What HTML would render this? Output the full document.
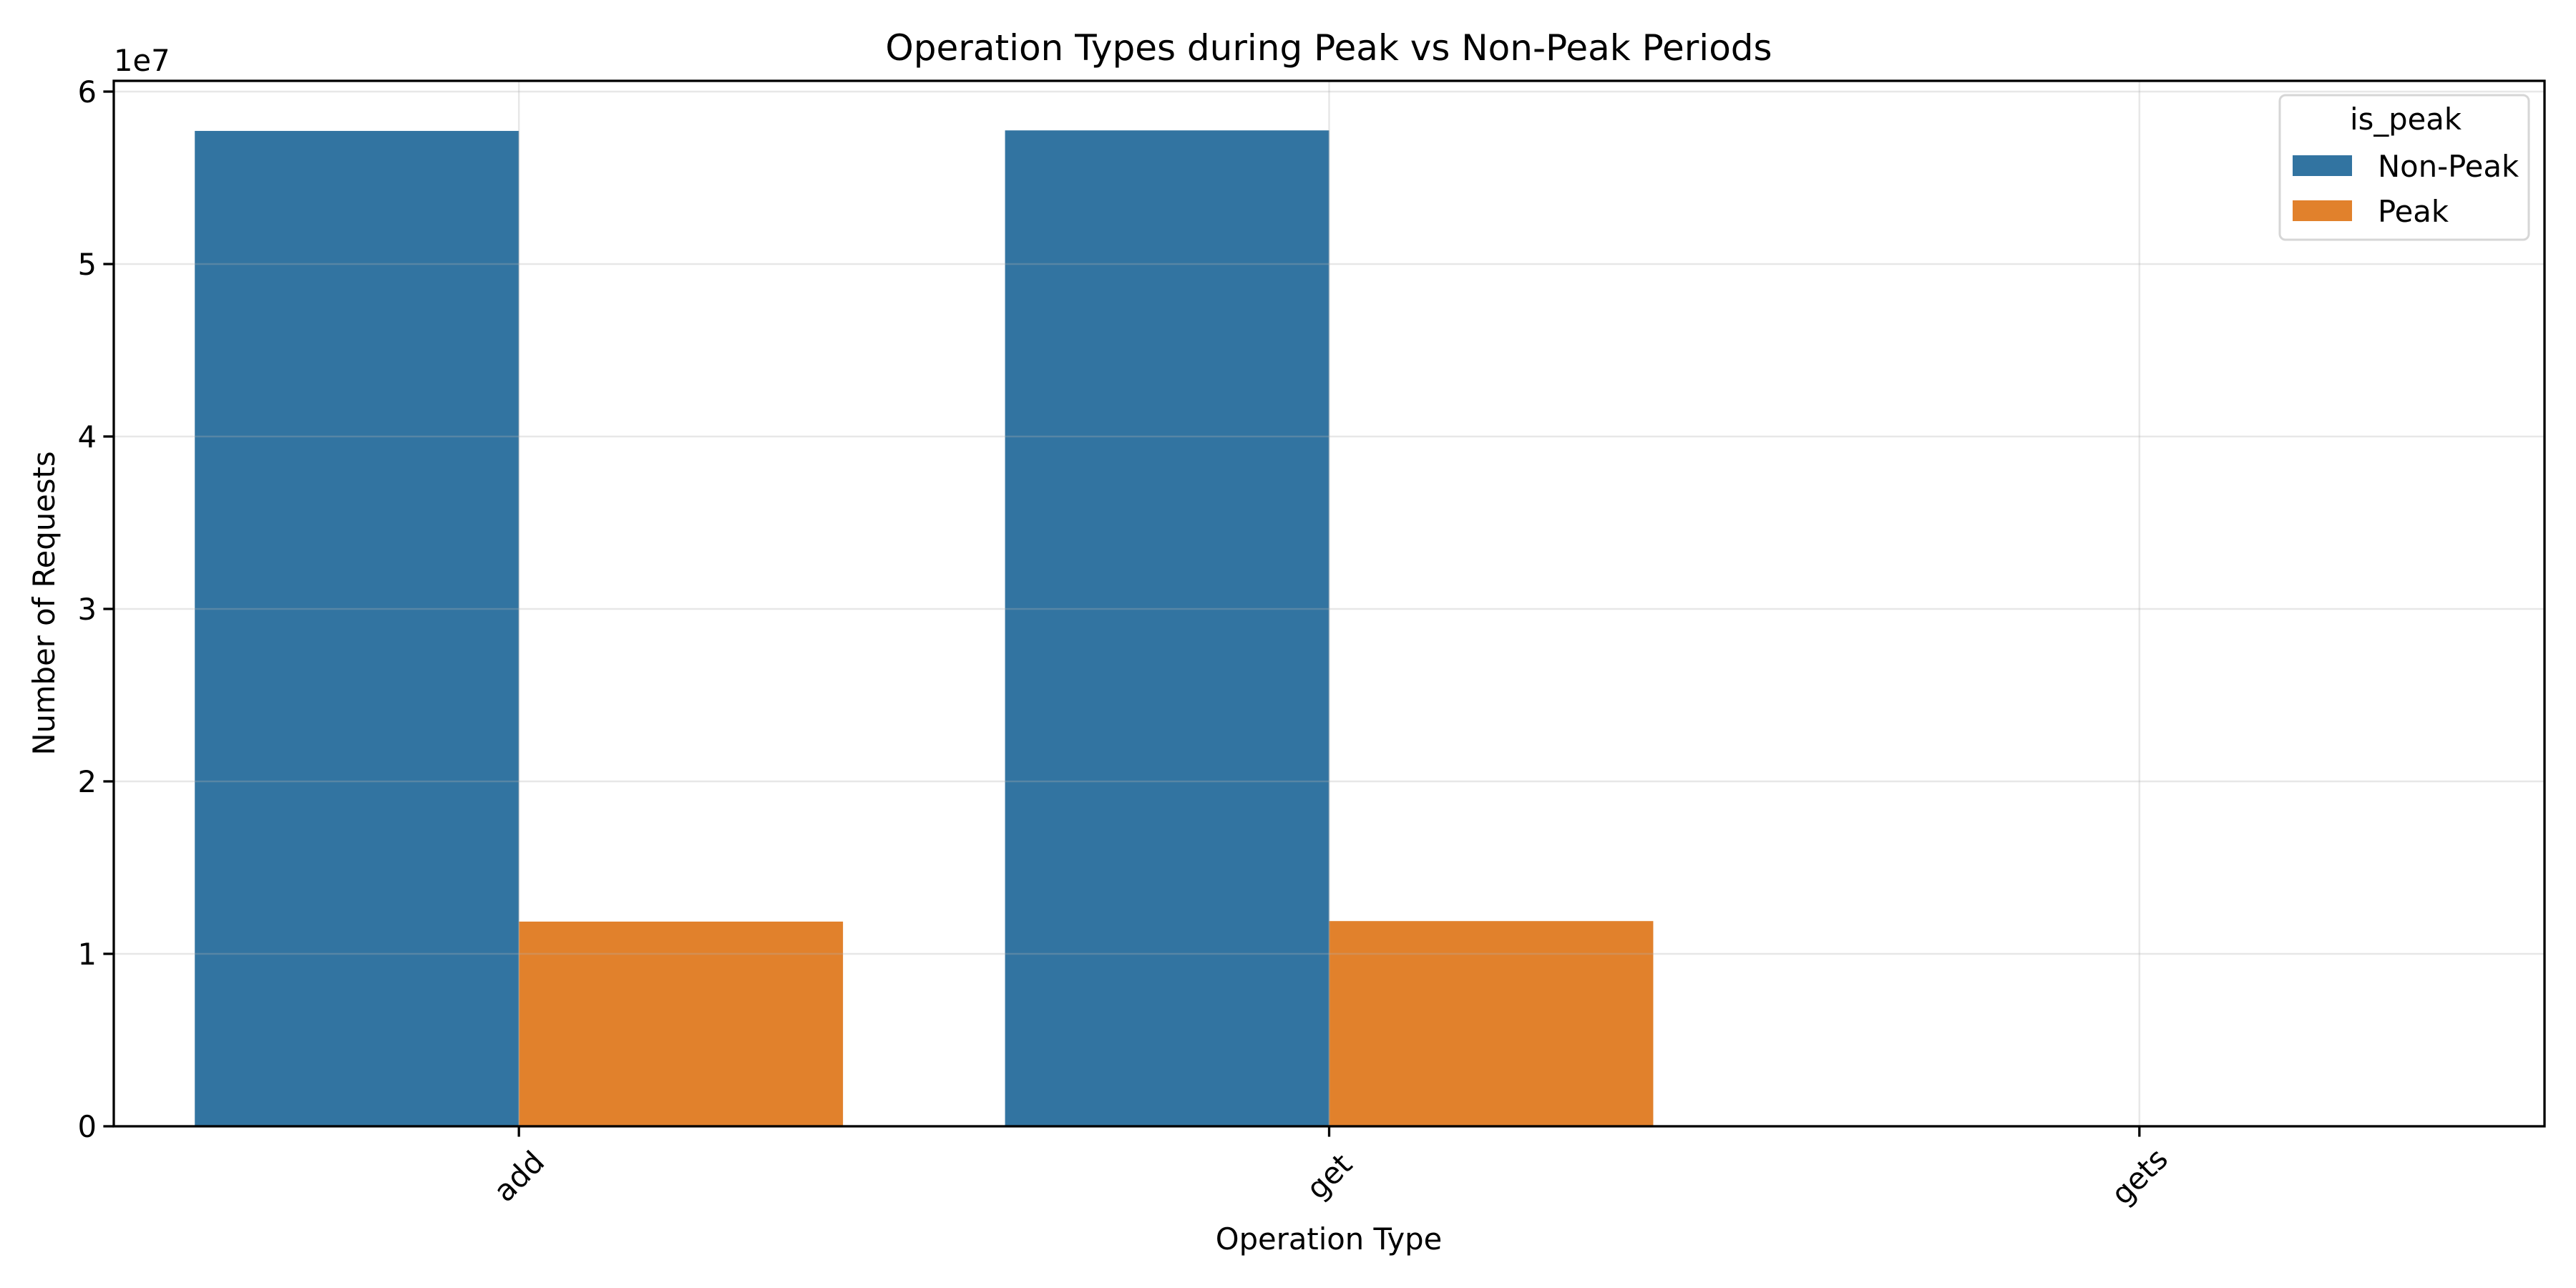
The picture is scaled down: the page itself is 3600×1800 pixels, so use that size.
<!DOCTYPE html>
<html><head><meta charset="utf-8"><style>
html,body{margin:0;padding:0;background:#fff;}
svg{display:block;font-family:"DejaVu Sans","Liberation Sans",sans-serif;}
</style></head><body>
<svg id="chart" width="3600" height="1800" viewBox="0 0 3600 1800" xmlns="http://www.w3.org/2000/svg">
<rect x="0" y="0" width="3600" height="1800" fill="#fff"/>
<g id="grid"></g>
<g id="bars"></g>
<g id="gridTop"></g>
<g id="axes"></g>
<text x="1857" y="84" text-anchor="middle" font-size="50" fill="#000">Operation Types during Peak vs Non-Peak Periods</text>
<text x="1857" y="1746" text-anchor="middle" font-size="41.7" fill="#000">Operation Type</text>
<text transform="translate(76,843) rotate(-90)" text-anchor="middle" font-size="41.7" fill="#000">Number of Requests</text>
<text x="159" y="99" font-size="41.7" fill="#000">1e7</text>
<g>
<rect x="3186" y="133" width="348" height="202" rx="8" fill="#fff" fill-opacity="0.8" stroke="#d6d6d6" stroke-width="3"/>
<text x="3362" y="181" text-anchor="middle" font-size="41.7" fill="#000">is_peak</text>
<rect x="3204" y="217" width="83" height="29" fill="#3274a1"/>
<text x="3323" y="247" font-size="41.7" fill="#000">Non-Peak</text>
<rect x="3204" y="280" width="83" height="29" fill="#e1812c"/>
<text x="3323" y="310" font-size="41.7" fill="#000">Peak</text>
</g>
</svg>
<script>
const categories = ["add", "get", "gets"];
const seriesNames = ["Non-Peak", "Peak"];
const nonPeakValues = [5.772e7, 5.775e7, 0];
const peakValues = [1.187e7, 1.19e7, 0];
const yTicks = [0, 1e7, 2e7, 3e7, 4e7, 5e7, 6e7];
const yTickLabels = ["0", "1", "2", "3", "4", "5", "6"];

const NS = "http://www.w3.org/2000/svg";
const L = 159, R = 3556, T = 113, B = 1574;
const yMax = (B - T) / 241 * 1e7;
function xScale(i){ return L + (i + 0.5) / categories.length * (R - L); }
function yScale(v){ return B - v / yMax * (B - T); }
const band = (R - L) / categories.length;
const barW = band * 0.4;
function mk(tag, attrs, parent){
  const e = document.createElementNS(NS, tag);
  for (const k in attrs) e.setAttribute(k, attrs[k]);
  parent.appendChild(e);
  return e;
}
const grid = document.getElementById('gridTop');
const bars = document.getElementById('bars');
const axes = document.getElementById('axes');
const series = [nonPeakValues, peakValues];
const colors = ["#3274a1", "#e1812c"];
series.forEach((vals, s) => {
  vals.forEach((v, i) => {
    const x = xScale(i) - barW + s * barW;
    const r = mk('rect', {x: x, y: yScale(v), width: barW, height: B - yScale(v), fill: colors[s]}, bars);
    
    
  });
});
yTicks.forEach((t, i) => {
  const y = yScale(t);
  const g = mk('line', {x1: L, x2: R, y1: y, y2: y, stroke: '#b0b0b0', 'stroke-opacity': 0.3, 'stroke-width': 2.5}, grid);
  
  
  const tk = mk('line', {x1: L - 14.6, x2: L, y1: y, y2: y, stroke: '#000', 'stroke-width': 3.3}, axes);
  
  
  const tx = mk('text', {x: L - 24, y: y + 15, 'text-anchor': 'end', 'font-size': 41.7, fill: '#000'}, axes);
  tx.textContent = yTickLabels[i];
  
  
});
categories.forEach((c, i) => {
  const x = xScale(i);
  const g = mk('line', {x1: x, x2: x, y1: T, y2: B, stroke: '#b0b0b0', 'stroke-opacity': 0.3, 'stroke-width': 2.5}, grid);
  
  
  const tk = mk('line', {x1: x, x2: x, y1: B, y2: B + 14.6, stroke: '#000', 'stroke-width': 3.3}, axes);
  
  
  const tx = mk('text', {transform: 'translate(' + x + ',' + (B + 70) + ') rotate(-45)', 'text-anchor': 'middle', 'dominant-baseline': 'central', 'font-size': 41.7, fill: '#000'}, axes);
  tx.textContent = c;
  
  
});
const frame = mk('rect', {x: L, y: T, width: R - L, height: B - T, fill: 'none', stroke: '#000', 'stroke-width': 3.3}, axes);


</script>
</body></html>
